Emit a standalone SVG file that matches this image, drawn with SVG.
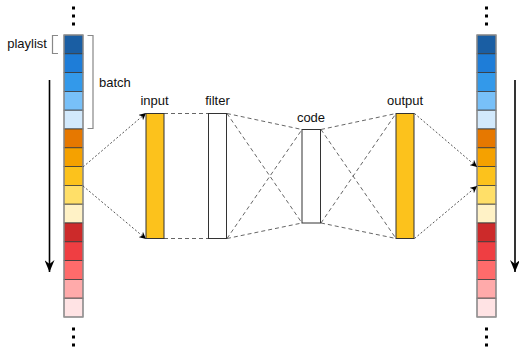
<svg xmlns="http://www.w3.org/2000/svg" width="519" height="349" viewBox="0 0 519 349">
<style>
text{font-family:"Liberation Sans",Arial,sans-serif;font-size:13px;fill:#111}
.cell{stroke:#3a3a3a;stroke-width:0.8}
.outline{fill:none;stroke:#999;stroke-width:1.2}
.layer{stroke:#333;stroke-width:1}
.dash{fill:none;stroke:#555;stroke-width:0.9;stroke-dasharray:4 3}
.dot{fill:none;stroke:#555;stroke-width:1;stroke-dasharray:2 2}
.brk{fill:none;stroke:#888;stroke-width:1.2}
.bigarrow{stroke:#000;stroke-width:1.6}
</style>
<defs>
<marker id="ah" viewBox="0 0 10 10" refX="9" refY="5" markerWidth="7" markerHeight="7" orient="auto" markerUnits="userSpaceOnUse">
<path d="M0,0 L10,5 L0,10 L3,5 Z" fill="#000"/>
</marker>
<marker id="bh" viewBox="0 0 12 10" refX="12" refY="5" markerWidth="12" markerHeight="10" orient="auto" markerUnits="userSpaceOnUse">
<path d="M0,0 L12,5 L0,10 L4,5 Z" fill="#000"/>
</marker>
<g id="col">
<rect class="cell" x="0" y="0" width="19" height="18.8" fill="#1a5ea3"/>
<rect class="cell" x="0" y="18.8" width="19" height="18.8" fill="#1e7dd8"/>
<rect class="cell" x="0" y="37.6" width="19" height="18.8" fill="#3399ea"/>
<rect class="cell" x="0" y="56.4" width="19" height="18.8" fill="#78c0f8"/>
<rect class="cell" x="0" y="75.2" width="19" height="18.8" fill="#d2e9fc"/>
<rect class="cell" x="0" y="94" width="19" height="18.8" fill="#e67800"/>
<rect class="cell" x="0" y="112.8" width="19" height="18.8" fill="#f5a100"/>
<rect class="cell" x="0" y="131.6" width="19" height="18.8" fill="#fcc21c"/>
<rect class="cell" x="0" y="150.4" width="19" height="18.8" fill="#ffdf68"/>
<rect class="cell" x="0" y="169.2" width="19" height="18.8" fill="#fff2c6"/>
<rect class="cell" x="0" y="188" width="19" height="18.8" fill="#cc2a2a"/>
<rect class="cell" x="0" y="206.8" width="19" height="18.8" fill="#ef3e42"/>
<rect class="cell" x="0" y="225.6" width="19" height="18.8" fill="#ff6b6b"/>
<rect class="cell" x="0" y="244.4" width="19" height="18.8" fill="#ffaaaa"/>
<rect class="cell" x="0" y="263.2" width="19" height="18.8" fill="#ffe3e4"/>
<rect class="outline" x="0" y="0" width="19" height="282"/>
</g>
<g id="dots3" fill="#000">
<rect x="-1.5" y="-1.5" width="3" height="3"/>
<rect x="-1.5" y="6.5" width="3" height="3"/>
<rect x="-1.5" y="14.5" width="3" height="3"/>
</g>
</defs>

<g id="left-column">
<use href="#dots3" x="73.5" y="8"/>
<use href="#col" x="64" y="35"/>
<use href="#dots3" x="73.5" y="329"/>
</g>
<g id="playlist">
<path class="brk" d="M58,35.5 H52.5 V53.5 H58"/>
<text x="47" y="48" text-anchor="end">playlist</text>
</g>
<g id="batch">
<path class="brk" d="M87.5,35.5 H93 V128.5 H87.5"/>
<text x="99" y="87">batch</text>
</g>
<g id="left-arrow">
<line class="bigarrow" x1="49.5" y1="80" x2="49.5" y2="272" marker-end="url(#bh)"/>
</g>

<g id="right-column">
<use href="#dots3" x="486.5" y="8"/>
<use href="#col" x="477" y="35"/>
<use href="#dots3" x="486.5" y="329"/>
</g>
<g id="right-arrow">
<line class="bigarrow" x1="515" y1="80" x2="515" y2="272" marker-end="url(#bh)"/>
</g>

<g id="connectors">
<line class="dot" x1="83" y1="167" x2="145.5" y2="113.5" marker-end="url(#ah)"/>
<line class="dot" x1="83" y1="186" x2="145.5" y2="238.5" marker-end="url(#ah)"/>
<line class="dash" x1="164" y1="113.5" x2="208" y2="113.5"/>
<line class="dash" x1="164" y1="238.5" x2="208" y2="238.5"/>
<line class="dash" x1="227" y1="113.5" x2="302" y2="129.5"/>
<line class="dash" x1="227" y1="113.5" x2="302" y2="223"/>
<line class="dash" x1="227" y1="238.5" x2="302" y2="129.5"/>
<line class="dash" x1="227" y1="238.5" x2="302" y2="223"/>
<line class="dash" x1="321" y1="129.5" x2="396" y2="113.5"/>
<line class="dash" x1="321" y1="129.5" x2="396" y2="238.5"/>
<line class="dash" x1="321" y1="223" x2="396" y2="113.5"/>
<line class="dash" x1="321" y1="223" x2="396" y2="238.5"/>
<line class="dot" x1="414.5" y1="113.5" x2="476.5" y2="166.5" marker-end="url(#ah)"/>
<line class="dot" x1="414.5" y1="238.5" x2="476.5" y2="186.5" marker-end="url(#ah)"/>
</g>

<g id="input">
<rect class="layer" x="146" y="113.5" width="18" height="125" fill="#fcc21c"/>
<text x="154.5" y="105" text-anchor="middle">input</text>
</g>
<g id="filter">
<rect class="layer" x="208.5" y="113.5" width="18" height="125" fill="#fff"/>
<text x="217.5" y="105" text-anchor="middle">filter</text>
</g>
<g id="code">
<rect class="layer" x="302" y="129.5" width="18.5" height="93.5" fill="#fff"/>
<text x="311" y="122" text-anchor="middle">code</text>
</g>
<g id="output">
<rect class="layer" x="396" y="113.5" width="18" height="125" fill="#fcc21c"/>
<text x="405" y="105" text-anchor="middle">output</text>
</g>
</svg>
